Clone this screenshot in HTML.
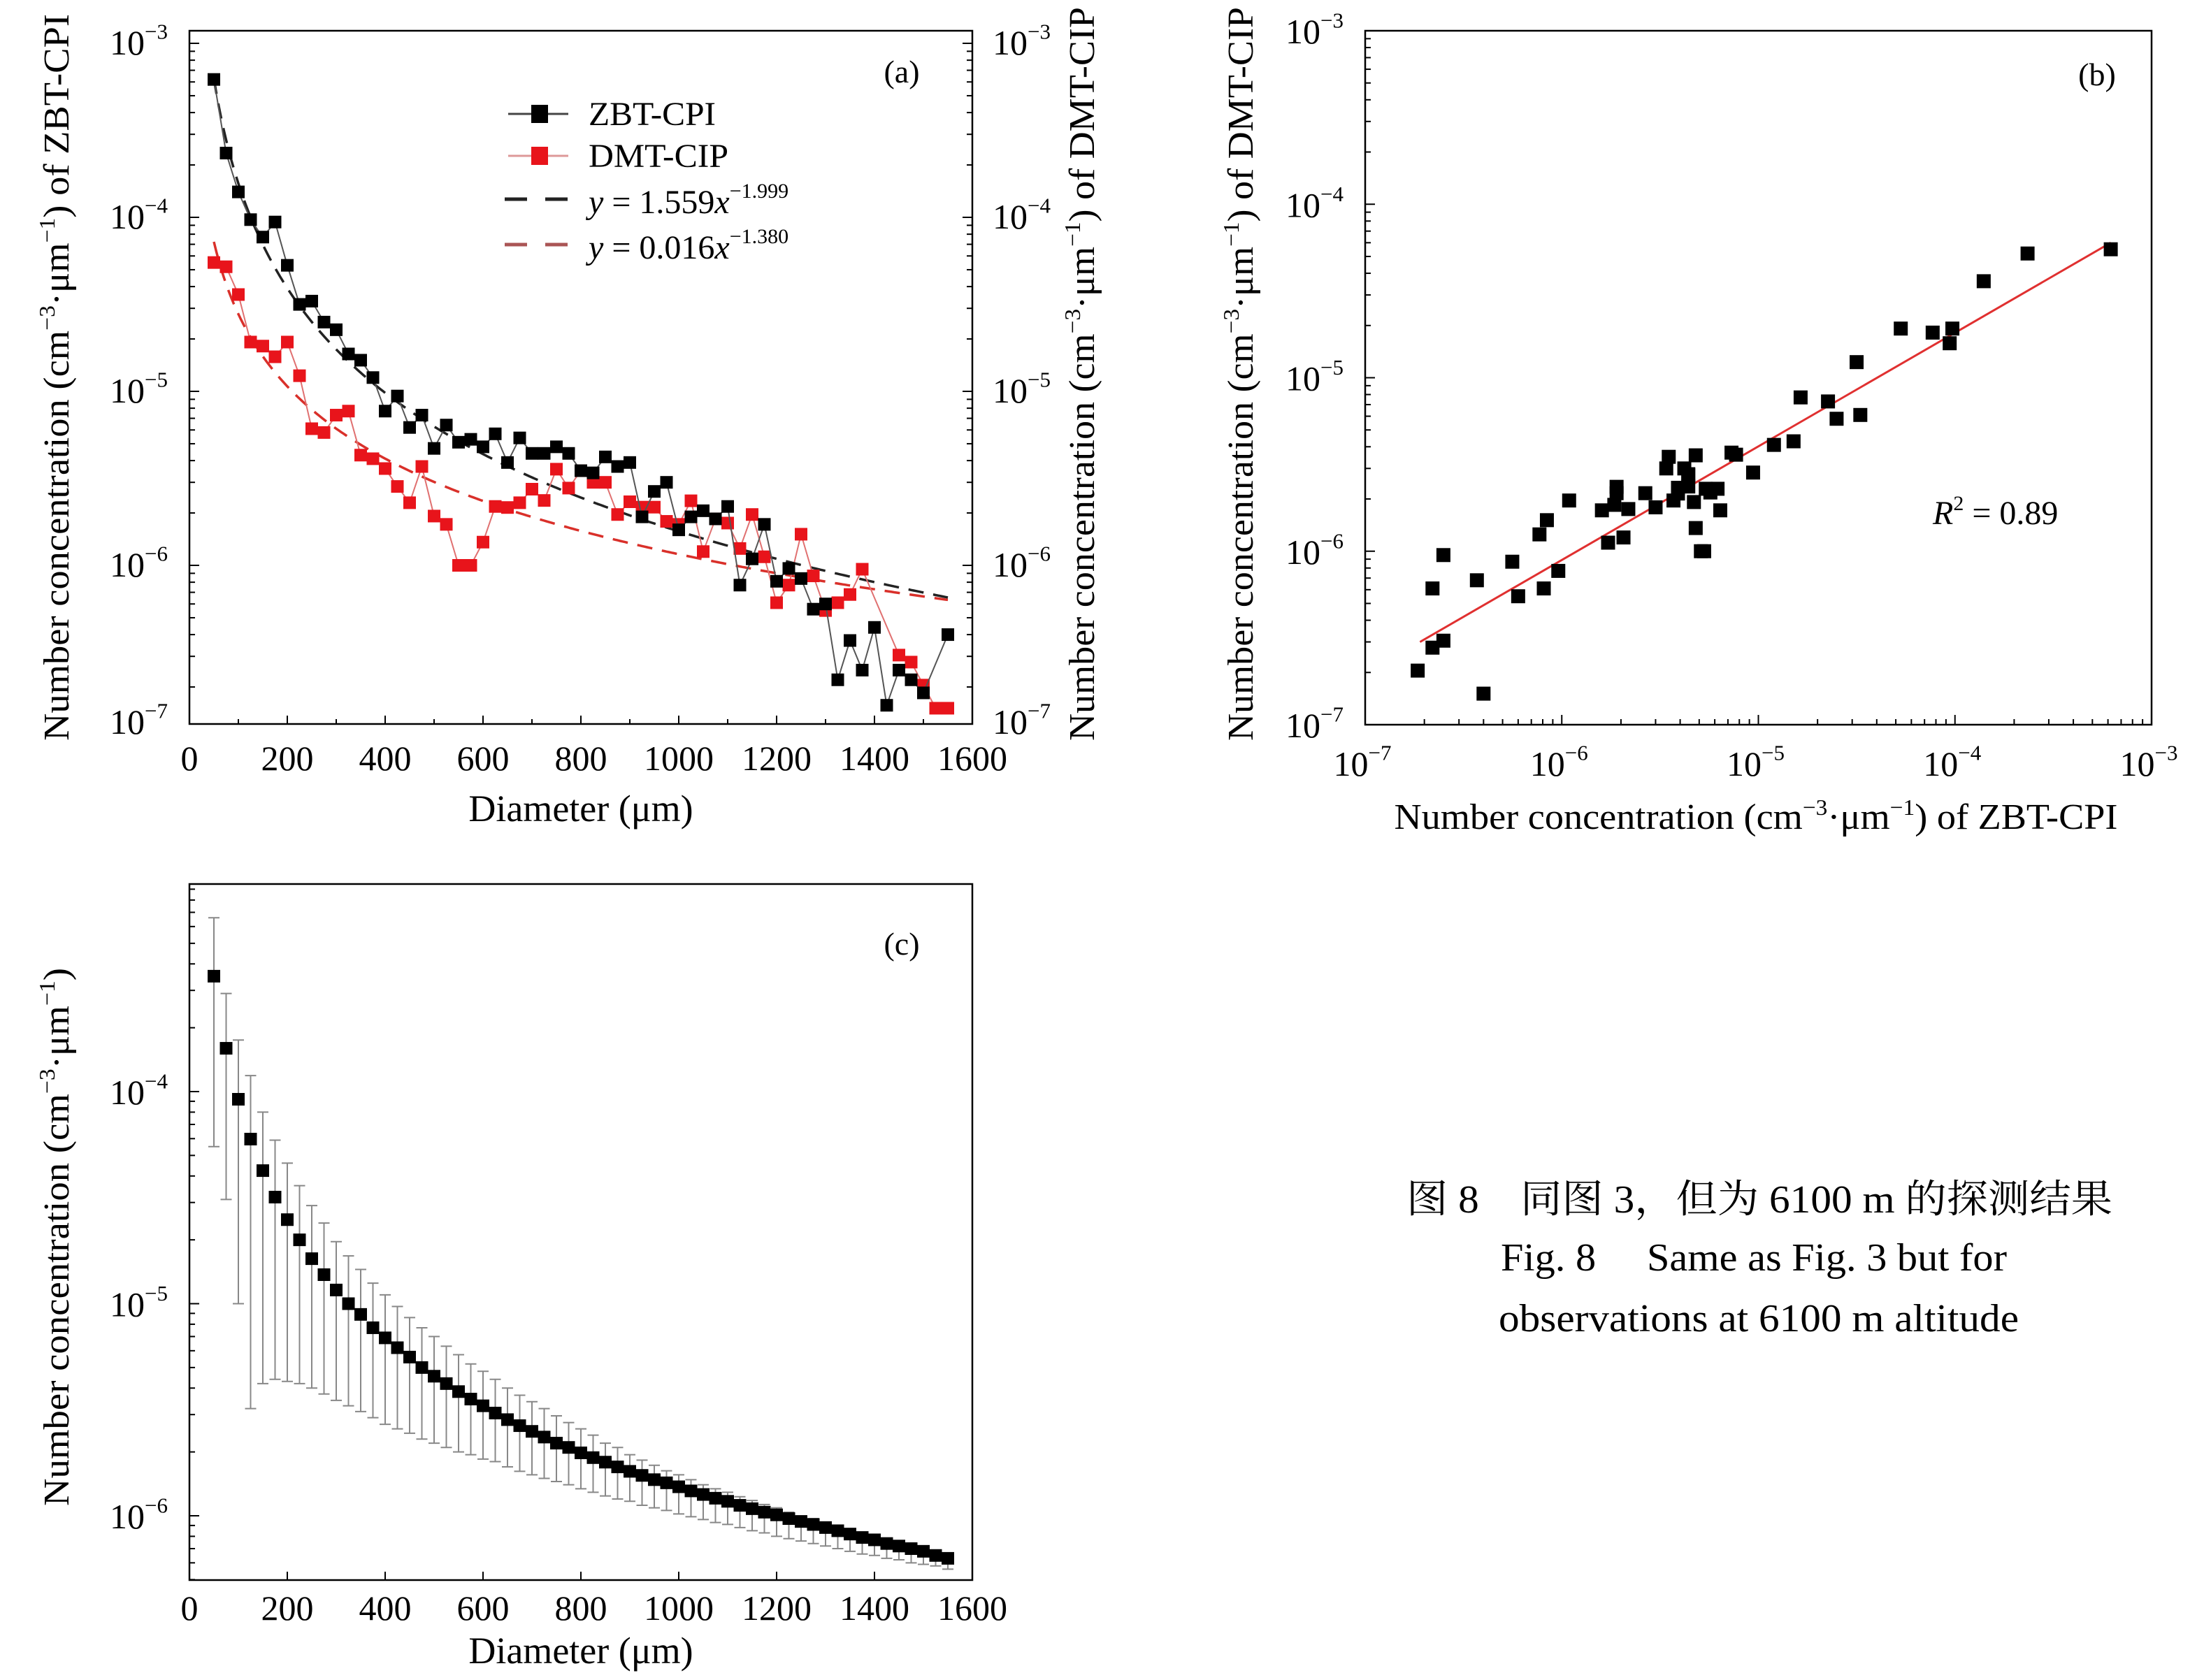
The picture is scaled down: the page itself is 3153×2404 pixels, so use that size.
<!DOCTYPE html>
<html><head><meta charset="utf-8"><style>
html,body{margin:0;padding:0;background:#fff;}
svg text{font-family:"Liberation Serif","Noto Serif CJK SC",serif;fill:#000;}
</style></head><body>
<svg id="fig" xmlns="http://www.w3.org/2000/svg" width="3153" height="2399" viewBox="0 0 3153 2399" font-family="Liberation Serif, Noto Serif CJK SC, serif">
<rect width="3153" height="2399" fill="#fff"/>
<g id="pa"></g>
<g id="pb"></g>
<g id="pc"></g>
<g id="cap">
<text x="2517" y="1735" font-size="56" text-anchor="middle" textLength="1010" lengthAdjust="spacingAndGlyphs">图 8　同图 3，但为 6100 m 的探测结果</text>
<text x="2509" y="1818" font-size="56" text-anchor="middle" textLength="724" lengthAdjust="spacingAndGlyphs">Fig. 8　 Same as Fig. 3 but for</text>
<text x="2516" y="1905" font-size="56" text-anchor="middle" textLength="744" lengthAdjust="spacingAndGlyphs">observations at 6100 m altitude</text>
</g>
</svg>
<script>
// ---------- data ----------
const diam = [50,75,100,125,150,175,200,225,250,275,300,325,350,375,400,425,450,475,500,525,550,575,600,625,650,675,700,725,750,775,800,825,850,875,900,925,950,975,1000,1025,1050,1075,1100,1125,1150,1175,1200,1225,1250,1275,1300,1325,1350,1375,1400,1425,1450,1475,1500,1525,1550];
const zbtCpi = [6.2e-4,2.34e-4,1.4e-4,9.7e-5,7.7e-5,9.4e-5,5.3e-5,3.16e-5,3.3e-5,2.5e-5,2.26e-5,1.64e-5,1.51e-5,1.2e-5,7.7e-6,9.4e-6,6.2e-6,7.3e-6,4.7e-6,6.4e-6,5.1e-6,5.3e-6,4.8e-6,5.7e-6,3.9e-6,5.4e-6,4.4e-6,4.4e-6,4.8e-6,4.4e-6,3.5e-6,3.4e-6,4.2e-6,3.7e-6,3.9e-6,1.9e-6,2.66e-6,3.0e-6,1.6e-6,1.9e-6,2.06e-6,1.85e-6,2.18e-6,7.7e-7,1.09e-6,1.72e-6,8.1e-7,9.6e-7,8.4e-7,5.6e-7,6.0e-7,2.2e-7,3.7e-7,2.5e-7,4.4e-7,1.57e-7,2.5e-7,2.2e-7,1.85e-7,null,4.0e-7];
const dmtCip = [5.5e-5,5.2e-5,3.6e-5,1.92e-5,1.82e-5,1.58e-5,1.92e-5,1.23e-5,6.1e-6,5.8e-6,7.3e-6,7.7e-6,4.3e-6,4.1e-6,3.6e-6,2.84e-6,2.29e-6,3.7e-6,1.92e-6,1.72e-6,1.0e-6,1.0e-6,1.36e-6,2.18e-6,2.15e-6,2.29e-6,2.74e-6,2.36e-6,3.57e-6,2.78e-6,3.5e-6,3.0e-6,3.0e-6,1.96e-6,2.32e-6,2.16e-6,2.16e-6,1.79e-6,1.72e-6,2.35e-6,1.2e-6,1.85e-6,1.75e-6,1.25e-6,1.96e-6,1.12e-6,6.1e-7,7.7e-7,1.51e-6,8.7e-7,5.5e-7,6.1e-7,6.8e-7,9.5e-7,null,null,3.05e-7,2.78e-7,2.05e-7,1.51e-7,1.51e-7];
const fitCoefZbt = [1.559, -1.999];
const fitCoefDmt = [0.016, -1.380];
const scatterFit = [-6.523, 0.655, -6.721]; // log-log: y = a + b*(logx - c)
const scatterFitRange = [1.9e-7, 6.2e-4];
const meanConc = [3.5e-4,1.6e-4,9.2e-5,5.97e-5,4.24e-5,3.18e-5,2.49e-5,2.0e-5,1.63e-5,1.37e-5,1.16e-5,1.0e-5,8.9e-6,7.7e-6,6.9e-6,6.2e-6,5.6e-6,5.0e-6,4.55e-6,4.2e-6,3.85e-6,3.55e-6,3.3e-6,3.05e-6,2.84e-6,2.66e-6,2.5e-6,2.35e-6,2.2e-6,2.1e-6,1.98e-6,1.88e-6,1.79e-6,1.7e-6,1.62e-6,1.55e-6,1.48e-6,1.43e-6,1.37e-6,1.31e-6,1.26e-6,1.21e-6,1.17e-6,1.12e-6,1.08e-6,1.04e-6,1.01e-6,9.7e-7,9.4e-7,9.1e-7,8.8e-7,8.5e-7,8.2e-7,7.9e-7,7.7e-7,7.4e-7,7.2e-7,7.0e-7,6.8e-7,6.5e-7,6.3e-7];
const upperConc = [6.6e-4,2.9e-4,1.75e-4,1.19e-4,8.0e-5,5.9e-5,4.6e-5,3.6e-5,2.9e-5,2.4e-5,1.96e-5,1.68e-5,1.45e-5,1.25e-5,1.1e-5,9.7e-6,8.6e-6,7.7e-6,7.0e-6,6.3e-6,5.75e-6,5.2e-6,4.8e-6,4.4e-6,4.0e-6,3.7e-6,3.45e-6,3.2e-6,2.96e-6,2.75e-6,2.57e-6,2.4e-6,2.2e-6,2.1e-6,1.94e-6,1.83e-6,1.73e-6,1.63e-6,1.56e-6,1.48e-6,1.4e-6,1.34e-6,1.29e-6,1.23e-6,1.18e-6,1.13e-6,1.09e-6,1.04e-6,1.0e-6,9.7e-7,9.3e-7,8.9e-7,8.6e-7,8.3e-7,8.0e-7,7.7e-7,7.5e-7,7.2e-7,6.9e-7,6.7e-7,6.4e-7];
const lowerConc = [5.5e-5,3.1e-5,1.0e-5,3.2e-6,4.2e-6,4.4e-6,4.3e-6,4.2e-6,4.0e-6,3.75e-6,3.5e-6,3.3e-6,3.1e-6,2.9e-6,2.7e-6,2.57e-6,2.45e-6,2.3e-6,2.2e-6,2.1e-6,2.0e-6,1.94e-6,1.85e-6,1.8e-6,1.7e-6,1.62e-6,1.56e-6,1.5e-6,1.45e-6,1.4e-6,1.34e-6,1.29e-6,1.24e-6,1.2e-6,1.17e-6,1.12e-6,1.09e-6,1.06e-6,1.02e-6,9.9e-7,9.6e-7,9.3e-7,9.1e-7,8.8e-7,8.5e-7,8.3e-7,8.0e-7,7.8e-7,7.6e-7,7.4e-7,7.2e-7,7.0e-7,6.8e-7,6.6e-7,6.5e-7,6.3e-7,6.2e-7,6.0e-7,5.9e-7,5.8e-7,5.6e-7];
const xTicks = [0,200,400,600,800,1000,1200,1400,1600];
const decadeExp = [-3,-4,-5,-6,-7];

// ---------- helpers ----------
const NS='http://www.w3.org/2000/svg';
function mk(parent, tag, attrs, txt){
  const e=document.createElementNS(NS,tag);
  for(const k in attrs) e.setAttribute(k,attrs[k]);
  if(txt!==undefined) e.textContent=txt;
  parent.appendChild(e); return e;
}
function linX(x0,x1,p0,p1){return v=>p0+(v-x0)/(x1-x0)*(p1-p0);}
function logY(refExp,refPix,perDec){return v=>refPix+(refExp-Math.log10(v))*perDec;}
function powLabel(parent,x,y,exp,anchor,size){
  const t=mk(parent,'text',{x:x,y:y,'font-size':size,'text-anchor':anchor});
  
  
  mk(t,'tspan',{},'10');
  mk(t,'tspan',{dy:-size*0.45,'font-size':size*0.62},'−'+(-exp));
  return t;
}

// ---------- panel a ----------
(function(){
  const g=document.getElementById('pa');
  const L=271,R=1391,T=44,B=1036;
  const X=linX(0,1600,L,R), Y=logY(-3,62,249);
  mk(g,'rect',{x:L,y:T,width:R-L,height:B-T,fill:'none',stroke:'#000','stroke-width':2.5,});
  xTicks.forEach(v=>{
    const l=mk(g,'line',{x1:X(v),x2:X(v),y1:B,y2:B-12,stroke:'#000','stroke-width':2});
     
    const t=mk(g,'text',{x:X(v),y:1102,'font-size':50,'text-anchor':'middle'},String(v));
     
    if(v<1600){const m=mk(g,'line',{x1:X(v+100),x2:X(v+100),y1:B,y2:B-7,stroke:'#000','stroke-width':2});
       }
  });
  for(let e=-3;e>=-7;e--){
    for(let m=1;m<10;m++){
      const v=m*Math.pow(10,e); const y=Y(v);
      if(y<T-1||y>B+1) continue;
      const len=m===1?14:8;
      [[L,L+len],[R,R-len]].forEach(p=>{
        const l=mk(g,'line',{x1:p[0],x2:p[1],y1:y,y2:y,stroke:'#000','stroke-width':2});
         
      });
    }
  }
  decadeExp.forEach(e=>{
    const y=e===-7?B+14:Y(Math.pow(10,e))+16;
    powLabel(g,240,y,e,'end',50);
    powLabel(g,1420,y,e,'start',50);
  });
  [[fitCoefZbt,'#222','fit-line-zbt'],[fitCoefDmt,'#d9302a','fit-line-dmt']].forEach(f=>{
    let d='';
    for(let x=50;x<=1550;x+=5){const v=f[0][0]*Math.pow(x,f[0][1]);d+=(d?'L':'M')+X(x).toFixed(1)+','+Y(v).toFixed(1);}
    const p=mk(g,'path',{d:d,fill:'none',stroke:f[1],'stroke-width':3.5,'stroke-dasharray':'22,14'});
     
  });
  [[dmtCip,'#e8141b','#e07070','series-dmt-cip'],[zbtCpi,'#000','#555','series-zbt-cpi']].forEach(s=>{
    let d='';
    diam.forEach((x,i)=>{const v=s[0][i]; if(v==null) return; d+=(d?'L':'M')+X(x).toFixed(1)+','+Y(v).toFixed(1);});
    const p=mk(g,'path',{d:d,fill:'none',stroke:s[2],'stroke-width':2});
     
    diam.forEach((x,i)=>{const v=s[0][i]; if(v==null) return;
      const r=mk(g,'rect',{x:X(x)-9,y:Y(v)-9,width:18,height:18,fill:s[1]});
       
    });
  });
  const lg=mk(g,'g',{});  
  mk(lg,'line',{x1:727,x2:813,y1:163,y2:163,stroke:'#444','stroke-width':3});
  mk(lg,'rect',{x:760,y:150,width:24,height:26,fill:'#000'});
  mk(lg,'text',{x:842,y:179,'font-size':48,textLength:182,lengthAdjust:'spacingAndGlyphs'},'ZBT-CPI');
  mk(lg,'line',{x1:727,x2:813,y1:223,y2:223,stroke:'#d99','stroke-width':3});
  mk(lg,'rect',{x:760,y:210,width:24,height:26,fill:'#e8141b'});
  mk(lg,'text',{x:842,y:239,'font-size':48,textLength:200,lengthAdjust:'spacingAndGlyphs'},'DMT-CIP');
  mk(lg,'line',{x1:722,x2:813,y1:285,y2:285,stroke:'#222','stroke-width':5,'stroke-dasharray':'32,26'});
  const e1=mk(lg,'text',{x:842,y:305,'font-size':48});
  mk(e1,'tspan',{'font-style':'italic'},'y'); mk(e1,'tspan',{},' = 1.559'); mk(e1,'tspan',{'font-style':'italic'},'x');
  mk(e1,'tspan',{dy:-22,'font-size':30},'−1.999');
  mk(lg,'line',{x1:722,x2:813,y1:350,y2:350,stroke:'#a55','stroke-width':5,'stroke-dasharray':'32,26'});
  const e2=mk(lg,'text',{x:842,y:370,'font-size':48});
  mk(e2,'tspan',{'font-style':'italic'},'y'); mk(e2,'tspan',{},' = 0.016'); mk(e2,'tspan',{'font-style':'italic'},'x');
  mk(e2,'tspan',{dy:-22,'font-size':30},'−1.380');
  const pl=mk(g,'text',{x:1290,y:118,'font-size':46,'text-anchor':'middle'},'(a)');
   
  const xt=mk(g,'text',{x:831,y:1175,'font-size':54,'text-anchor':'middle'},'Diameter (μm)');
   
  const yt=mk(g,'text',{x:0,y:0,'font-size':52,'text-anchor':'middle',transform:'translate(98,540) rotate(-90)',textLength:1040,lengthAdjust:'spacingAndGlyphs'});
   
  yt.innerHTML='Number concentration (cm<tspan dy="-20" font-size="32">−3</tspan><tspan dy="20">·μm</tspan><tspan dy="-20" font-size="32">−1</tspan><tspan dy="20">) of ZBT-CPI</tspan>';
  const yt2=mk(g,'text',{x:0,y:0,'font-size':52,'text-anchor':'middle',transform:'translate(1565,535) rotate(-90)',textLength:1050,lengthAdjust:'spacingAndGlyphs'});
   
  yt2.innerHTML='Number concentration (cm<tspan dy="-20" font-size="32">−3</tspan><tspan dy="20">·μm</tspan><tspan dy="-20" font-size="32">−1</tspan><tspan dy="20">) of DMT-CIP</tspan>';
})();

// ---------- panel b ----------
(function(){
  const g=document.getElementById('pb');
  const L=1953,R=3078,T=44,B=1037;
  const X=v=>L+(Math.log10(v)+7)*(R-L)/4, Y=v=>T+(-3-Math.log10(v))*(B-T)/4;
  mk(g,'rect',{x:L,y:T,width:R-L,height:B-T,fill:'none',stroke:'#000','stroke-width':2.5,});
  for(let e=-7;e<-3;e++){
    for(let m=1;m<10;m++){
      const v=m*Math.pow(10,e); const len=m===1?14:8;
      const a=mk(g,'line',{x1:L,x2:L+len,y1:Y(v),y2:Y(v),stroke:'#000','stroke-width':2});
       
      const b=mk(g,'line',{x1:X(v),x2:X(v),y1:B,y2:B-len,stroke:'#000','stroke-width':2});
       
    }
  }
  decadeExp.forEach(e=>{
    const v=Math.pow(10,e);
    powLabel(g,1922,Y(v)+18,e,'end',50);
    powLabel(g,X(v)-4,1110,e,'middle',50);
  });
  const lx=scatterFitRange;
  const fy=x=>Math.pow(10,scatterFit[0]+scatterFit[1]*(Math.log10(x)-scatterFit[2]));
  const rl=mk(g,'line',{x1:X(lx[0]),y1:Y(fy(lx[0])),x2:X(lx[1]),y2:Y(fy(lx[1])),stroke:'#e03030','stroke-width':3});
   
  diam.forEach((d,i)=>{
    const a=zbtCpi[i], b=dmtCip[i]; if(a==null||b==null) return;
    const r=mk(g,'rect',{x:X(a)-10,y:Y(b)-10,width:20,height:20,fill:'#000'});
     
  });
  const r2=mk(g,'text',{x:2765,y:750,'font-size':48});
   
  r2.innerHTML='<tspan font-style="italic">R</tspan><tspan dy="-20" font-size="30">2</tspan><tspan dy="20"> = 0.89</tspan>';
  const pl=mk(g,'text',{x:3000,y:122,'font-size':46,'text-anchor':'middle'},'(b)');
   
  const xt=mk(g,'text',{x:2512,y:1186,'font-size':52,'text-anchor':'middle',textLength:1035,lengthAdjust:'spacingAndGlyphs'});
   
  xt.innerHTML='Number concentration (cm<tspan dy="-20" font-size="32">−3</tspan><tspan dy="20">·μm</tspan><tspan dy="-20" font-size="32">−1</tspan><tspan dy="20">) of ZBT-CPI</tspan>';
  const yt=mk(g,'text',{x:0,y:0,'font-size':52,'text-anchor':'middle',transform:'translate(1792,535) rotate(-90)',textLength:1050,lengthAdjust:'spacingAndGlyphs'});
   
  yt.innerHTML='Number concentration (cm<tspan dy="-20" font-size="32">−3</tspan><tspan dy="20">·μm</tspan><tspan dy="-20" font-size="32">−1</tspan><tspan dy="20">) of DMT-CIP</tspan>';
})();

// ---------- panel c ----------
(function(){
  const g=document.getElementById('pc');
  const L=271,R=1391,T=1265,B=2261;
  const X=linX(0,1600,L,R), Y=logY(-4,1562,303.5);
  mk(g,'rect',{x:L,y:T,width:R-L,height:B-T,fill:'none',stroke:'#000','stroke-width':2.5,});
  xTicks.forEach(v=>{
    const l=mk(g,'line',{x1:X(v),x2:X(v),y1:B,y2:B-12,stroke:'#000','stroke-width':2});
     
    const t=mk(g,'text',{x:X(v),y:2318,'font-size':50,'text-anchor':'middle'},String(v));
     
  });
  for(let e=-3;e>=-7;e--){
    for(let m=1;m<10;m++){
      const v=m*Math.pow(10,e); const y=Y(v);
      if(y<T||y>B) continue;
      const l=mk(g,'line',{x1:L,x2:L+(m===1?14:8),y1:y,y2:y,stroke:'#000','stroke-width':2});
       
    }
  }
  [-4,-5,-6].forEach(e=>powLabel(g,240,Y(Math.pow(10,e))+18,e,'end',50));
  diam.forEach((x,i)=>{
    const cx=X(x);
    const eb=mk(g,'path',{d:'M'+cx+','+Y(upperConc[i])+'V'+Y(lowerConc[i])+'M'+(cx-8)+','+Y(upperConc[i])+'h16M'+(cx-8)+','+Y(lowerConc[i])+'h16',stroke:'#888','stroke-width':2,fill:'none'});
     
  });
  diam.forEach((x,i)=>{
    const r=mk(g,'rect',{x:X(x)-9,y:Y(meanConc[i])-9,width:18,height:18,fill:'#000'});
     
  });
  const pl=mk(g,'text',{x:1290,y:1366,'font-size':46,'text-anchor':'middle'},'(c)');
   
  const xt=mk(g,'text',{x:831,y:2380,'font-size':54,'text-anchor':'middle'},'Diameter (μm)');
   
  const yt=mk(g,'text',{x:0,y:0,'font-size':52,'text-anchor':'middle',transform:'translate(98,1770) rotate(-90)',textLength:770,lengthAdjust:'spacingAndGlyphs'});
   
  yt.innerHTML='Number concentration (cm<tspan dy="-20" font-size="32">−3</tspan><tspan dy="20">·μm</tspan><tspan dy="-20" font-size="32">−1</tspan><tspan dy="20">)</tspan>';
})();
</script>
</body></html>
